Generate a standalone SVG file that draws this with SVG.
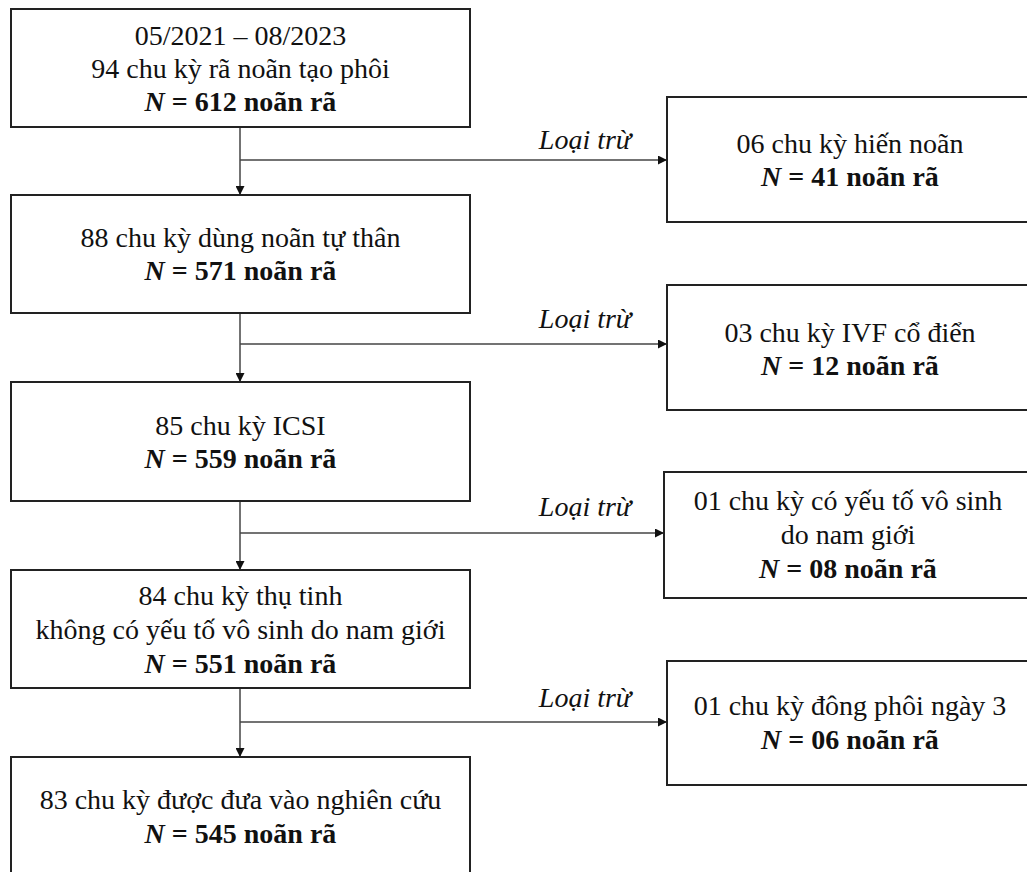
<svg xmlns="http://www.w3.org/2000/svg" width="1027" height="872" viewBox="0 0 1027 872">
<defs>
<marker id="ah" viewBox="0 0 10 10" refX="10" refY="5" markerWidth="9" markerHeight="9" markerUnits="userSpaceOnUse" orient="auto">
<path d="M0,0 L10,5 L0,10 Z" fill="#111"/>
</marker>
<style>
.box{fill:#fff;stroke:#222;stroke-width:2}
.t{font-family:"Liberation Serif","Times New Roman",serif;font-size:28px;fill:#111;text-anchor:middle}
.b{font-weight:bold}
.i{font-style:italic}
.lbl{font-family:"Liberation Serif","Times New Roman",serif;font-size:28px;font-style:italic;fill:#111;text-anchor:middle}
.c{fill:none;stroke:#444;stroke-width:1.5}
</style>
</defs>
<rect width="1027" height="872" fill="#fff"/>
<g id="connectors">
<line class="c" x1="240" y1="127" x2="240" y2="195" marker-end="url(#ah)"/>
<line class="c" x1="240" y1="160" x2="667" y2="160" marker-end="url(#ah)"/>
<line class="c" x1="240" y1="313" x2="240" y2="382" marker-end="url(#ah)"/>
<line class="c" x1="240" y1="344" x2="667" y2="344" marker-end="url(#ah)"/>
<line class="c" x1="240" y1="501" x2="240" y2="570" marker-end="url(#ah)"/>
<line class="c" x1="240" y1="533" x2="664" y2="533" marker-end="url(#ah)"/>
<line class="c" x1="240" y1="688" x2="240" y2="757" marker-end="url(#ah)"/>
<line class="c" x1="240" y1="722" x2="667" y2="722" marker-end="url(#ah)"/>
<text class="lbl" x="585" y="149">Loại trừ</text>
<text class="lbl" x="585" y="328">Loại trừ</text>
<text class="lbl" x="585" y="516">Loại trừ</text>
<text class="lbl" x="585" y="707">Loại trừ</text>
</g>
<g id="n1">
<rect class="box" x="11" y="9" width="459" height="118"/>
<text class="t" x="240.5" y="45">05/2021 – 08/2023</text>
<text class="t" x="240.5" y="78">94 chu kỳ rã noãn tạo phôi</text>
<text class="t b" x="240.5" y="111"><tspan class="i">N</tspan> = 612 noãn rã</text>
</g>
<g id="n2">
<rect class="box" x="11" y="195" width="459" height="118"/>
<text class="t" x="240.5" y="247">88 chu kỳ dùng noãn tự thân</text>
<text class="t b" x="240.5" y="280"><tspan class="i">N</tspan> = 571 noãn rã</text>
</g>
<g id="n3">
<rect class="box" x="11" y="382" width="459" height="119"/>
<text class="t" x="240.5" y="435">85 chu kỳ ICSI</text>
<text class="t b" x="240.5" y="468"><tspan class="i">N</tspan> = 559 noãn rã</text>
</g>
<g id="n4">
<rect class="box" x="11" y="570" width="459" height="118"/>
<text class="t" x="240.5" y="605">84 chu kỳ thụ tinh</text>
<text class="t" x="240.5" y="639">không có yếu tố vô sinh do nam giới</text>
<text class="t b" x="240.5" y="673"><tspan class="i">N</tspan> = 551 noãn rã</text>
</g>
<g id="n5">
<rect class="box" x="11" y="757" width="459" height="120"/>
<text class="t" x="240.5" y="809">83 chu kỳ được đưa vào nghiên cứu</text>
<text class="t b" x="240.5" y="843"><tspan class="i">N</tspan> = 545 noãn rã</text>
</g>
<g id="r1">
<rect class="box" x="667" y="97" width="366" height="125"/>
<text class="t" x="850" y="153">06 chu kỳ hiến noãn</text>
<text class="t b" x="850" y="186"><tspan class="i">N</tspan> = 41 noãn rã</text>
</g>
<g id="r2">
<rect class="box" x="667" y="285" width="366" height="125"/>
<text class="t" x="850" y="342">03 chu kỳ IVF cổ điển</text>
<text class="t b" x="850" y="375"><tspan class="i">N</tspan> = 12 noãn rã</text>
</g>
<g id="r3">
<rect class="box" x="664" y="472" width="369" height="126"/>
<text class="t" x="848" y="510">01 chu kỳ có yếu tố vô sinh</text>
<text class="t" x="848" y="544">do nam giới</text>
<text class="t b" x="848" y="578"><tspan class="i">N</tspan> = 08 noãn rã</text>
</g>
<g id="r4">
<rect class="box" x="667" y="661" width="366" height="124"/>
<text class="t" x="850" y="715">01 chu kỳ đông phôi ngày 3</text>
<text class="t b" x="850" y="749"><tspan class="i">N</tspan> = 06 noãn rã</text>
</g>
</svg>
